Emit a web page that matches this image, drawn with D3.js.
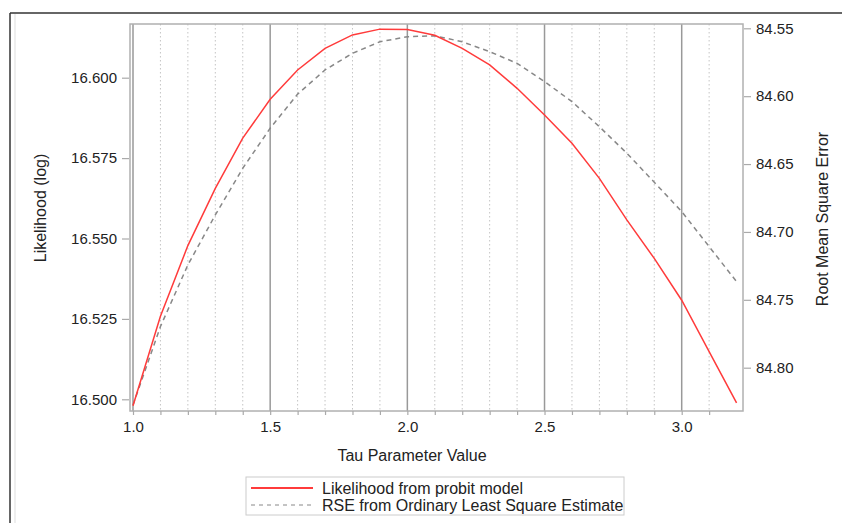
<!DOCTYPE html>
<html>
<head>
<meta charset="utf-8">
<script src="https://cdn.jsdelivr.net/npm/d3@7"></script>
<style>
  body { margin: 0; background: #ffffff; }
  text { font-family: "Liberation Sans", Arial, sans-serif; fill: #222; }
</style>
</head>
<body>
<script>
// Data
const tau = [1.0, 1.1, 1.2, 1.3, 1.4, 1.5, 1.6, 1.7, 1.8, 1.9, 2.0, 2.1,
  2.2, 2.3, 2.4, 2.5, 2.6, 2.7, 2.8, 2.9, 3.0, 3.1, 3.2];
const likelihood = [16.498, 16.5258, 16.5478, 16.5656, 16.5812, 16.5933, 16.6024, 16.6091,
  16.6133, 16.6151, 16.615, 16.6132, 16.6091, 16.604, 16.5967, 16.5884, 16.5796, 16.5687,
  16.5558, 16.5438, 16.5308, 16.5148, 16.4989];
const rse = [84.8274, 84.7697, 84.7243, 84.6875, 84.6531, 84.6236, 84.5985, 84.5807,
  84.5684, 84.5599, 84.5562, 84.5555, 84.5599, 84.5672, 84.5758, 84.5893, 84.604, 84.6225,
  84.642, 84.6634, 84.685, 84.7108, 84.7366];
const leftTicks = [16.500, 16.525, 16.550, 16.575, 16.600];
const rightTicks = [84.55, 84.60, 84.65, 84.70, 84.75, 84.80];
const xLabelTicks = [1.0, 1.5, 2.0, 2.5, 3.0];
const xMinorTicks = [1.0, 1.1, 1.2, 1.3, 1.4, 1.5, 1.6, 1.7, 1.8, 1.9, 2.0, 2.1, 2.2,
  2.3, 2.4, 2.5, 2.6, 2.7, 2.8, 2.9, 3.0, 3.1];
const seriesNames = ['Likelihood from probit model', 'RSE from Ordinary Least Square Estimate'];

const W = 842, H = 523;
const plot = { left: 130, right: 743, top: 24, bottom: 411 };

const svg = d3.select('body').append('svg')
  .attr('width', W)
  .attr('height', H);

// outer frame
svg.append('line').attr('x1', 10).attr('x2', W).attr('y1', 13).attr('y2', 13)
  .attr('stroke', '#333').attr('stroke-width', 1.5);
svg.append('line').attr('x1', 10).attr('x2', 10).attr('y1', 13).attr('y2', H)
  .attr('stroke', '#333').attr('stroke-width', 1.5);
svg.append('line').attr('x1', 15).attr('x2', 15).attr('y1', 14).attr('y2', H)
  .attr('stroke', '#ddd').attr('stroke-width', 1);

// scales
const x = d3.scaleLinear().domain([1, 3]).range([133, 681.7]);
const yL = d3.scaleLinear().domain([16.5, 16.6]).range([399.3, 77.7]);
const yR = d3.scaleLinear().domain([84.55, 84.80]).range([28.3, 367.7]);

// grid lines
const grid = svg.append('g');
xMinorTicks.forEach(v => {
  const major = xLabelTicks.some(m => Math.abs(m - v) < 1e-9);
  grid.append('line')
    .attr('x1', x(v)).attr('x2', x(v))
    .attr('y1', plot.top).attr('y2', plot.bottom)
    .attr('stroke', major ? '#999' : '#c4c4c4')
    .attr('stroke-width', major ? 1.5 : 1)
    .attr('stroke-dasharray', major ? null : '1.5,2.5');
});

// plot frame
svg.append('rect')
  .attr('x', plot.left).attr('y', plot.top)
  .attr('width', plot.right - plot.left).attr('height', plot.bottom - plot.top)
  .attr('fill', 'none').attr('stroke', '#b0b0b0').attr('stroke-width', 1.5);

// axes
const styleAxis = g => {
  g.select('.domain').remove();
  g.selectAll('.tick line').attr('stroke', '#aaa').attr('stroke-width', 1.2);
  g.selectAll('.tick text').attr('font-size', 15).attr('fill', '#222')
    .attr('font-family', '"Liberation Sans", Arial, sans-serif');
};

svg.append('g')
  .attr('transform', `translate(${plot.left - 1},0)`)
  .call(d3.axisLeft(yL).tickValues(leftTicks).tickFormat(d3.format('.3f')).tickSize(7).tickPadding(5))
  .call(styleAxis);

svg.append('g')
  .attr('transform', `translate(${plot.right + 1},0)`)
  .call(d3.axisRight(yR).tickValues(rightTicks).tickFormat(d3.format('.2f')).tickSize(7).tickPadding(5))
  .call(styleAxis);

svg.append('g')
  .attr('transform', `translate(0,${plot.bottom})`)
  .call(d3.axisBottom(x).tickValues(xMinorTicks).tickFormat('').tickSize(4))
  .call(styleAxis);

svg.append('g')
  .attr('transform', `translate(0,${plot.bottom})`)
  .call(d3.axisBottom(x).tickValues(xLabelTicks).tickFormat(d3.format('.1f')).tickSize(0).tickPadding(10))
  .call(styleAxis);

// axis titles
svg.append('text')
  .attr('x', 412).attr('y', 461)
  .attr('text-anchor', 'middle').attr('font-size', 16)
  .text('Tau Parameter Value');

svg.append('text')
  .attr('transform', 'translate(46,208) rotate(-90)')
  .attr('text-anchor', 'middle').attr('font-size', 16)
  .text('Likelihood (log)');

svg.append('text')
  .attr('transform', 'translate(828,219) rotate(-90)')
  .attr('text-anchor', 'middle').attr('font-size', 16)
  .text('Root Mean Square Error');

// series
const lineL = d3.line().x((d, i) => x(tau[i])).y(d => yL(d));
const lineR = d3.line().x((d, i) => x(tau[i])).y(d => yR(d));

svg.append('path')
  .datum(rse)
  .attr('d', lineR)
  .attr('fill', 'none')
  .attr('stroke', '#888')
  .attr('stroke-width', 1.5)
  .attr('stroke-dasharray', '5,4');

svg.append('path')
  .datum(likelihood)
  .attr('d', lineL)
  .attr('fill', 'none')
  .attr('stroke', '#ff3b3b')
  .attr('stroke-width', 1.5);

// legend
const legend = svg.append('g');
legend.append('rect')
  .attr('x', 246).attr('y', 477).attr('width', 378).attr('height', 38)
  .attr('fill', '#fff').attr('stroke', '#ccc').attr('stroke-width', 1);

const legendItems = [
  { name: seriesNames[0], color: '#ff3b3b', dash: null, w: 2 },
  { name: seriesNames[1], color: '#888', dash: '4,4', w: 1 }
];
legendItems.forEach((it, i) => {
  const cy = 488 + i * 17;
  legend.append('line')
    .attr('x1', 251).attr('x2', 313).attr('y1', cy).attr('y2', cy)
    .attr('stroke', it.color).attr('stroke-width', it.w)
    .attr('stroke-dasharray', it.dash);
  legend.append('text')
    .attr('x', 322).attr('y', cy + 5.5)
    .attr('font-size', 16)
    .text(it.name);
});
</script>
</body>
</html>
